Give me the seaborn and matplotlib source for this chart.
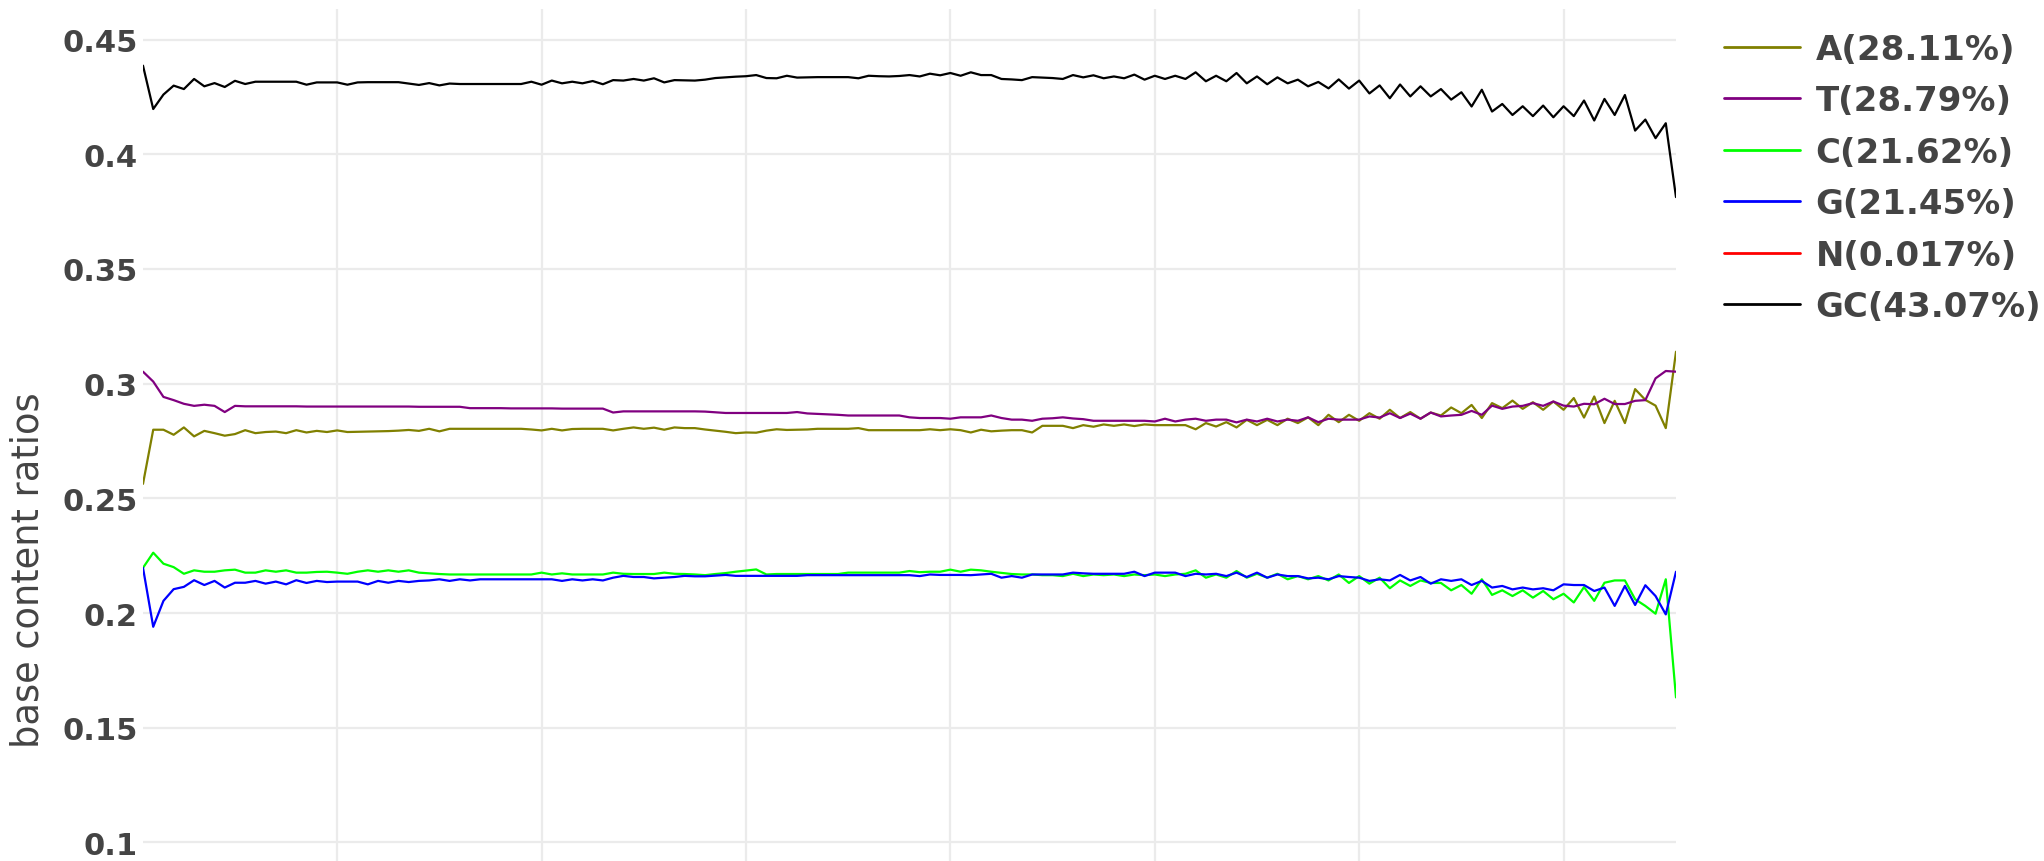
import matplotlib
matplotlib.use("Agg")
import pandas as pd
import matplotlib.pyplot as plt
import seaborn as sns

# read positions 1..151
positions = list(range(1, 152))

a_ratio = [
    0.2563, 0.2799, 0.2799, 0.2777, 0.2809, 0.2770, 0.2794, 0.2784, 0.2773, 0.2780,
    0.2797, 0.2784, 0.2789, 0.2791, 0.2784, 0.2797, 0.2787, 0.2794, 0.2789, 0.2796,
    0.2789, 0.2790, 0.2791, 0.2792, 0.2793, 0.2795, 0.2798, 0.2794, 0.2803, 0.2792,
    0.2803, 0.2803, 0.2803, 0.2803, 0.2803, 0.2803, 0.2803, 0.2803, 0.2800, 0.2796,
    0.2803, 0.2796, 0.2802, 0.2803, 0.2803, 0.2803, 0.2796, 0.2803, 0.2809, 0.2803,
    0.2808, 0.2799, 0.2809, 0.2806, 0.2806, 0.2800, 0.2795, 0.2790, 0.2784, 0.2787,
    0.2786, 0.2795, 0.2801, 0.2798, 0.2799, 0.2800, 0.2803, 0.2803, 0.2803, 0.2803,
    0.2806, 0.2797, 0.2797, 0.2797, 0.2797, 0.2797, 0.2797, 0.2801, 0.2797, 0.2801,
    0.2797, 0.2787, 0.2799, 0.2792, 0.2795, 0.2797, 0.2797, 0.2787, 0.2816, 0.2816,
    0.2816, 0.2806, 0.2819, 0.2812, 0.2822, 0.2816, 0.2822, 0.2815, 0.2822, 0.2819,
    0.2819, 0.2819, 0.2819, 0.2801, 0.2828, 0.2813, 0.2832, 0.2809, 0.2842, 0.2819,
    0.2842, 0.2819, 0.2847, 0.2828, 0.2853, 0.2819, 0.2864, 0.2832, 0.2864, 0.2838,
    0.2871, 0.2847, 0.2886, 0.2850, 0.2876, 0.2847, 0.2874, 0.2861, 0.2896, 0.2871,
    0.2907, 0.2850, 0.2915, 0.2893, 0.2926, 0.2890, 0.2919, 0.2886, 0.2922, 0.2886,
    0.2937, 0.2852, 0.2944, 0.2828, 0.2925, 0.2828, 0.2976, 0.2929, 0.2904, 0.2806,
    0.3139,
]

t_ratio = [
    0.3052, 0.3009, 0.2942, 0.2928, 0.2912, 0.2903, 0.2908, 0.2903, 0.2876, 0.2903,
    0.2901, 0.2901, 0.2901, 0.2901, 0.2901, 0.2901, 0.2900, 0.2900, 0.2900, 0.2900,
    0.2900, 0.2900, 0.2900, 0.2900, 0.2900, 0.2900, 0.2900, 0.2899, 0.2899, 0.2899,
    0.2899, 0.2899, 0.2893, 0.2893, 0.2893, 0.2893, 0.2892, 0.2892, 0.2892, 0.2892,
    0.2892, 0.2891, 0.2891, 0.2891, 0.2891, 0.2891, 0.2874, 0.2879, 0.2879, 0.2879,
    0.2879, 0.2879, 0.2879, 0.2879, 0.2879, 0.2878, 0.2875, 0.2872, 0.2872, 0.2872,
    0.2872, 0.2872, 0.2872, 0.2872, 0.2876, 0.2870, 0.2868, 0.2866, 0.2864, 0.2861,
    0.2861, 0.2861, 0.2861, 0.2861, 0.2861, 0.2853, 0.2850, 0.2850, 0.2850, 0.2847,
    0.2853, 0.2853, 0.2853, 0.2861, 0.2850, 0.2843, 0.2843, 0.2838, 0.2847, 0.2849,
    0.2853, 0.2848, 0.2845, 0.2838, 0.2838, 0.2838, 0.2838, 0.2838, 0.2838, 0.2835,
    0.2847, 0.2835, 0.2843, 0.2847, 0.2838, 0.2843, 0.2843, 0.2831, 0.2843, 0.2835,
    0.2847, 0.2835, 0.2843, 0.2838, 0.2853, 0.2832, 0.2847, 0.2843, 0.2843, 0.2843,
    0.2857, 0.2852, 0.2871, 0.2850, 0.2869, 0.2847, 0.2874, 0.2857, 0.2861, 0.2864,
    0.2881, 0.2864, 0.2904, 0.2890, 0.2900, 0.2903, 0.2915, 0.2903, 0.2922, 0.2904,
    0.2900, 0.2912, 0.2910, 0.2934, 0.2911, 0.2911, 0.2925, 0.2928, 0.3023, 0.3055,
    0.3052,
]

c_ratio = [
    0.2197, 0.2263, 0.2215, 0.2200, 0.2171, 0.2186, 0.2180, 0.2180, 0.2186, 0.2189,
    0.2176, 0.2176, 0.2186, 0.2180, 0.2186, 0.2176, 0.2176, 0.2179, 0.2180, 0.2176,
    0.2171, 0.2180, 0.2186, 0.2180, 0.2186, 0.2180, 0.2186, 0.2176, 0.2173, 0.2170,
    0.2168, 0.2168, 0.2168, 0.2168, 0.2168, 0.2168, 0.2168, 0.2168, 0.2168, 0.2176,
    0.2168, 0.2173, 0.2168, 0.2168, 0.2168, 0.2168, 0.2176, 0.2171, 0.2170, 0.2170,
    0.2170, 0.2176, 0.2171, 0.2170, 0.2168, 0.2165, 0.2170, 0.2174, 0.2180, 0.2185,
    0.2190, 0.2168, 0.2170, 0.2170, 0.2170, 0.2170, 0.2170, 0.2170, 0.2170, 0.2176,
    0.2176, 0.2176, 0.2176, 0.2176, 0.2176, 0.2183, 0.2178, 0.2180, 0.2180, 0.2189,
    0.2180, 0.2189, 0.2186, 0.2180, 0.2175, 0.2170, 0.2168, 0.2168, 0.2165, 0.2165,
    0.2161, 0.2171, 0.2161, 0.2168, 0.2165, 0.2168, 0.2161, 0.2168, 0.2165, 0.2168,
    0.2161, 0.2168, 0.2171, 0.2186, 0.2154, 0.2168, 0.2154, 0.2183, 0.2154, 0.2171,
    0.2154, 0.2171, 0.2147, 0.2161, 0.2147, 0.2161, 0.2142, 0.2168, 0.2131, 0.2161,
    0.2128, 0.2154, 0.2108, 0.2142, 0.2118, 0.2142, 0.2131, 0.2131, 0.2099, 0.2122,
    0.2084, 0.2147, 0.2079, 0.2099, 0.2074, 0.2099, 0.2067, 0.2096, 0.2060, 0.2084,
    0.2046, 0.2113, 0.2053, 0.2132, 0.2142, 0.2142, 0.2060, 0.2031, 0.1997, 0.2147,
    0.1632,
]

g_ratio = [
    0.2197, 0.1940, 0.2053, 0.2104, 0.2114, 0.2143, 0.2122, 0.2140, 0.2111, 0.2132,
    0.2132, 0.2140, 0.2128, 0.2137, 0.2125, 0.2143, 0.2131, 0.2140, 0.2135, 0.2137,
    0.2137, 0.2137, 0.2125, 0.2140, 0.2132, 0.2140, 0.2135, 0.2140, 0.2142, 0.2147,
    0.2140, 0.2147, 0.2142, 0.2147, 0.2147, 0.2147, 0.2147, 0.2147, 0.2147, 0.2147,
    0.2147, 0.2140, 0.2147, 0.2142, 0.2147, 0.2142, 0.2154, 0.2162, 0.2157, 0.2157,
    0.2151, 0.2154, 0.2157, 0.2162, 0.2160, 0.2160, 0.2163, 0.2166, 0.2162, 0.2162,
    0.2162, 0.2162, 0.2162, 0.2162, 0.2162, 0.2165, 0.2165, 0.2165, 0.2165, 0.2165,
    0.2165, 0.2165, 0.2165, 0.2165, 0.2165, 0.2165, 0.2161, 0.2168, 0.2166, 0.2166,
    0.2166, 0.2165, 0.2168, 0.2171, 0.2154, 0.2161, 0.2154, 0.2168, 0.2168, 0.2168,
    0.2168, 0.2176, 0.2173, 0.2171, 0.2171, 0.2171, 0.2171, 0.2180, 0.2161, 0.2176,
    0.2176, 0.2176, 0.2161, 0.2171, 0.2168, 0.2171, 0.2161, 0.2176, 0.2157, 0.2176,
    0.2154, 0.2168, 0.2161, 0.2161, 0.2151, 0.2154, 0.2147, 0.2161, 0.2157, 0.2154,
    0.2140, 0.2147, 0.2142, 0.2166, 0.2142, 0.2157, 0.2128, 0.2147, 0.2140, 0.2147,
    0.2122, 0.2140, 0.2111, 0.2118, 0.2103, 0.2111, 0.2103, 0.2108, 0.2099, 0.2125,
    0.2122, 0.2122, 0.2096, 0.2111, 0.2031, 0.2118, 0.2035, 0.2121, 0.2074, 0.1994,
    0.2180,
]

# N stays near 0.017% everywhere, far below the visible range
n_ratio = [0.0002] * len(positions)

gc_ratio = [
    0.4386, 0.4197, 0.4260, 0.4299, 0.4284, 0.4328, 0.4296, 0.4310, 0.4293, 0.4320,
    0.4306, 0.4316, 0.4316, 0.4316, 0.4316, 0.4316, 0.4303, 0.4313, 0.4313, 0.4313,
    0.4303, 0.4313, 0.4314, 0.4314, 0.4314, 0.4314, 0.4308, 0.4302, 0.4310, 0.4300,
    0.4308, 0.4306, 0.4306, 0.4306, 0.4306, 0.4306, 0.4306, 0.4306, 0.4316, 0.4303,
    0.4321, 0.4309, 0.4316, 0.4309, 0.4319, 0.4305, 0.4323, 0.4321, 0.4328, 0.4321,
    0.4331, 0.4313, 0.4323, 0.4322, 0.4321, 0.4325, 0.4332, 0.4335, 0.4338, 0.4340,
    0.4345, 0.4332, 0.4331, 0.4342, 0.4334, 0.4335, 0.4336, 0.4336, 0.4336, 0.4336,
    0.4331, 0.4342, 0.4340, 0.4339, 0.4341, 0.4345, 0.4339, 0.4351, 0.4344, 0.4354,
    0.4342, 0.4357, 0.4345, 0.4345, 0.4328, 0.4326, 0.4323, 0.4336, 0.4334, 0.4332,
    0.4328, 0.4345, 0.4335, 0.4344, 0.4331, 0.4339, 0.4331, 0.4347, 0.4325, 0.4342,
    0.4328, 0.4342, 0.4328, 0.4357, 0.4318, 0.4342, 0.4318, 0.4354, 0.4309, 0.4339,
    0.4305, 0.4335, 0.4309, 0.4325, 0.4296, 0.4315, 0.4287, 0.4326, 0.4286, 0.4321,
    0.4265, 0.4300, 0.4244, 0.4304, 0.4252, 0.4296, 0.4252, 0.4284, 0.4238, 0.4270,
    0.4208, 0.4281, 0.4186, 0.4219, 0.4171, 0.4209, 0.4166, 0.4212, 0.4161, 0.4209,
    0.4166, 0.4234, 0.4147, 0.4241, 0.4171, 0.4258, 0.4103, 0.4151, 0.4070, 0.4135,
    0.3813,
]

series_labels = ["A(28.11%)", "T(28.79%)", "C(21.62%)", "G(21.45%)", "N(0.017%)", "GC(43.07%)"]
series_colors = ["#808000", "#800080", "#00ff00", "#0000ff", "#ff0000", "#000000"]
series_values = [a_ratio, t_ratio, c_ratio, g_ratio, n_ratio, gc_ratio]

x_grid = [20, 40, 60, 80, 100, 120, 140]
y_ticks = [0.1, 0.15, 0.2, 0.25, 0.3, 0.35, 0.4, 0.45]
y_tick_labels = ["0.1", "0.15", "0.2", "0.25", "0.3", "0.35", "0.4", "0.45"]

# long format for seaborn
frames = []
for lab, vals in zip(series_labels, series_values):
    frames.append(pd.DataFrame({"position": positions, "ratio": vals, "base": lab}))
df = pd.concat(frames, ignore_index=True)

sns.set_theme(style="white")
plt.rcParams['font.family'] = ['DejaVu Sans']

W, H = 2044, 862
fig = plt.figure(figsize=(W / 100, H / 100), dpi=100)
ax = fig.add_axes([143 / W, 0, 1533 / W, 852 / H])

sns.lineplot(data=df, x="position", y="ratio", hue="base", hue_order=series_labels,
             palette=dict(zip(series_labels, series_colors)), estimator=None,
             linewidth=1.6, ax=ax)

ax.set_xlim(1, 151)
ax.set_ylim(0.0919, 0.4633)
ax.set_xticks(x_grid)
ax.set_xticklabels([])
ax.set_yticks(y_ticks)
ax.set_yticklabels(y_tick_labels, fontsize=22, fontweight='bold', color='#444444')
ax.tick_params(axis='both', length=0, pad=4)
ax.grid(True, color='#ebebeb', linewidth=1.6)
ax.set_axisbelow(True)
for s in ax.spines.values():
    s.set_visible(False)
ax.set_xlabel("")
ax.set_ylabel("")

fig.text(28 / W, 1 - 570 / H, "base content ratios", rotation=90, va='center', ha='center',
         fontsize=26.5, color='#444444')

handles, labels = ax.get_legend_handles_labels()
leg = ax.legend(handles, labels, loc='upper left', bbox_to_anchor=(1724 / W, 1 - 34 / H),
                bbox_transform=fig.transFigure, frameon=False,
                prop={'weight': 'bold', 'size': 24.5}, handlelength=2.24, handletextpad=0.45,
                labelspacing=0.54, borderpad=0, borderaxespad=0)
for t in leg.get_texts():
    t.set_color('#444444')
for ln in leg.get_lines():
    ln.set_linewidth(2.0)

fig.savefig("out.png", dpi=100)
